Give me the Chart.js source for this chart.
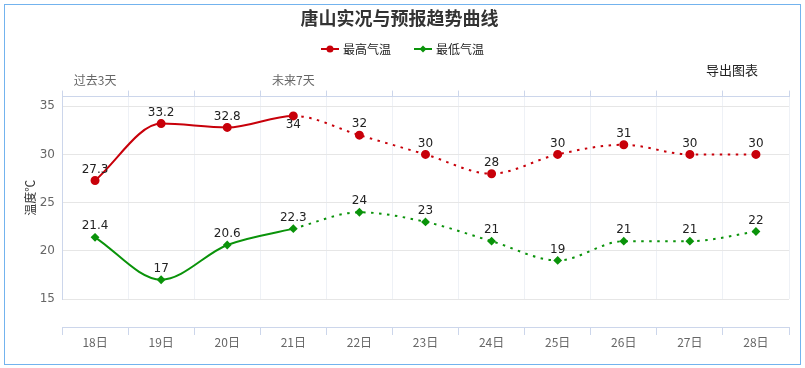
<!DOCTYPE html>
<html>
<head>
<meta charset="utf-8">
<script src="https://cdn.jsdelivr.net/npm/chart.js@4.4.1/dist/chart.umd.min.js"></script>
<style>
  body { margin: 0; background: #fff; }
  #frame { position: absolute; left: 4px; top: 4px; width: 795px; height: 359px; border: 1px solid #73b3ee; }
  #chart { position: absolute; left: 0; top: 0; }
  #export { position: absolute; left: 706px; top: 60px; font: 13px "Noto Sans CJK SC", sans-serif; color: #222; }
</style>
</head>
<body>
<div id="frame"></div>
<canvas id="chart" width="805" height="368"></canvas>
<div id="export">导出图表</div>
<script>
// days and temperatures, first 4 are observed, the rest forecast
const days = ["18日", "19日", "20日", "21日", "22日", "23日", "24日", "25日", "26日", "27日", "28日"];
const topLabels = ["过去3天", "", "", "未来7天", "", "", "", "", "", "", ""];
const highTemps = [27.3, 33.2, 32.8, 34, 32, 30, 28, 30, 31, 30, 30];
const lowTemps = [21.4, 17, 20.6, 22.3, 24, 23, 21, 19, 21, 21, 22];
const yTicks = [15, 20, 25, 30, 35];
const observedCount = 4;

const RED = "#c8000a";
const GREEN = "#0a930a";
const CJK = "'Noto Sans CJK SC', sans-serif";

function drawMarker(g, style, x, y, r) {
    g.beginPath();
    if (style == "circle") {
        g.arc(x, y, r, 0, Math.PI * 2);
    } else {
        g.moveTo(x, y - r); g.lineTo(x + r, y); g.lineTo(x, y + r); g.lineTo(x - r, y); g.closePath();
    }
    g.fill();
}

// dotted after the observed days
function dashed(ctx) {
    return ctx.p0DataIndex >= observedCount - 1 ? [2.5, 5.5] : undefined;
}

// legend drawn by hand, line + marker like the original
const lineLegend = {
    id: "lineLegend",
    afterDraw(chart) {
        const g = chart.ctx;
        const items = [
            { text: "最高气温", color: RED, style: "circle" },
            { text: "最低气温", color: GREEN, style: "diamond" }
        ];
        g.save();
        g.font = "12px " + CJK;
        g.textBaseline = "middle";
        const iconW = 18, gapText = 4, gapItem = 23;
        let total = 0;
        items.forEach((it, i) => {
            it.w = iconW + gapText + g.measureText(it.text).width;
            total += it.w + (i ? gapItem : 0);
        });
        let x = chart.width / 2 - total / 2;
        const y = 49;
        items.forEach(it => {
            g.strokeStyle = it.color; g.fillStyle = it.color; g.lineWidth = 2;
            g.beginPath(); g.moveTo(x, y); g.lineTo(x + iconW, y); g.stroke();
            drawMarker(g, it.style, x + iconW / 2, y, 3.5);
            g.fillStyle = "#222";
            g.fillText(it.text, x + iconW + gapText, y);
            x += it.w + gapItem;
        });
        g.restore();
    }
};

// value labels over the points
const valueLabels = {
    id: "valueLabels",
    afterDatasetsDraw(chart) {
        const g = chart.ctx;
        g.save();
        g.font = "12px 'DejaVu Sans', sans-serif";
        g.fillStyle = "#222";
        g.textAlign = "center";
        chart.data.datasets.forEach((ds, i) => {
            const meta = chart.getDatasetMeta(i);
            meta.data.forEach((pt, j) => {
                let y = pt.y - 5;
                if (i == 0 && j == observedCount - 1) {
                    g.textBaseline = "top";
                    y = pt.y + 3;
                } else {
                    g.textBaseline = "bottom";
                }
                g.fillText(String(ds.data[j]), pt.x, y);
            });
        });
        g.restore();
    }
};

new Chart(document.getElementById("chart"), {
    type: "line",
    data: {
        labels: days,
        datasets: [{
            label: "最高气温",
            data: highTemps,
            borderColor: RED,
            backgroundColor: RED,
            borderWidth: 2,
            pointStyle: "circle",
            pointRadius: 3.5,
            pointHoverRadius: 3.5,
            cubicInterpolationMode: "monotone",
            segment: { borderDash: dashed }
        }, {
            label: "最低气温",
            data: lowTemps,
            borderColor: GREEN,
            backgroundColor: GREEN,
            borderWidth: 2,
            pointStyle: "rectRot",
            pointRadius: 3,
            pointHoverRadius: 3,
            cubicInterpolationMode: "monotone",
            segment: { borderDash: dashed }
        }]
    },
    options: {
        responsive: false,
        animation: false,
        events: [],
        layout: { padding: { left: 10, right: 16, top: 0, bottom: 13 } },
        plugins: {
            title: {
                display: true,
                text: "唐山实况与预报趋势曲线",
                color: "#333",
                font: { size: 18, weight: "bold", family: CJK },
                padding: { top: 7, bottom: 31 }
            },
            legend: { display: false },
            tooltip: { enabled: false }
        },
        scales: {
            x: {
                type: "category",
                position: "bottom",
                weight: 2,
                offset: true,
                grid: { offset: true, color: "#eef1f6", tickColor: "#ccd6eb", tickLength: 8 },
                border: { color: "#ccd6eb" },
                ticks: { color: "#666", font: { size: 12, family: CJK }, padding: 0, maxRotation: 0 },
                afterFit(scale) { scale.height = 28; }
            },
            gap: {
                type: "category",
                position: "bottom",
                weight: 1,
                labels: days,
                grid: { display: false },
                border: { display: false },
                ticks: { display: false },
                afterFit(scale) { scale.height = 28; }
            },
            xTop: {
                type: "category",
                position: "top",
                labels: topLabels,
                offset: true,
                grid: { offset: true, drawOnChartArea: false, tickColor: "#ccd6eb", tickLength: 6 },
                border: { color: "#ccd6eb" },
                ticks: { color: "#666", font: { size: 12, family: CJK }, padding: 3, maxRotation: 0, autoSkip: false },
                afterFit(scale) { scale.height = 37; }
            },
            y: {
                min: 15,
                max: 36,
                ticks: { color: "#666", font: { size: 12, family: "'DejaVu Sans', sans-serif" }, padding: 7 },
                afterBuildTicks(scale) { scale.ticks = yTicks.map(v => ({ value: v })); },
                grid: { color: "#e6e6e6", drawTicks: false },
                border: { color: "#ccd6eb" },
                title: { display: true, text: "温度℃", color: "#333", font: { size: 12, family: CJK }, padding: { top: 13, bottom: 0 } },
                afterFit(scale) { scale.width = 52; }
            }
        }
    },
    plugins: [valueLabels, lineLegend]
});
</script>
</body>
</html>
